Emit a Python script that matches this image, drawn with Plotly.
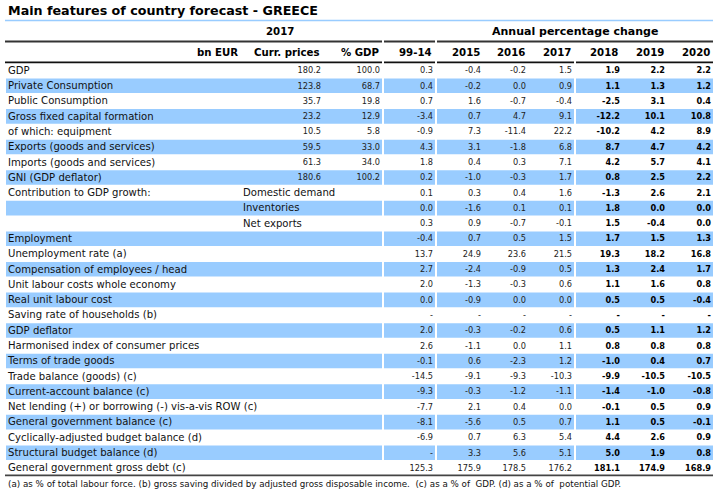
import plotly.graph_objects as go

row_labels = ["GDP", "Private Consumption", "Public Consumption", "Gross fixed capital formation",
              "of which: equipment", "Exports (goods and services)", "Imports (goods and services)",
              "GNI (GDP deflator)", "Contribution to GDP growth:", "", "", "Employment",
              "Unemployment rate (a)", "Compensation of employees / head", "Unit labour costs whole economy",
              "Real unit labour cost", "Saving rate of households (b)", "GDP deflator",
              "Harmonised index of consumer prices", "Terms of trade goods", "Trade balance (goods) (c)",
              "Current-account balance (c)", "Net lending (+) or borrowing (-) vis-a-vis ROW (c)",
              "General government balance (c)", "Cyclically-adjusted budget balance (d)",
              "Structural budget balance (d)", "General government gross debt (c)"]
sub_labels = ["", "", "", "", "", "", "", "", "Domestic demand", "Inventories", "Net exports"] + [""] * 16

curr_prices = ["180.2", "123.8", "35.7", "23.2", "10.5", "59.5", "61.3", "180.6"]
pct_gdp = ["100.0", "68.7", "19.8", "12.9", "5.8", "33.0", "34.0", "100.2"]
avg_99_14 = ["0.3", "0.4", "0.7", "-3.4", "-0.9", "4.3", "1.8", "0.2", "0.1", "0.0", "0.3", "-0.4", "13.7", "2.7",
             "2.0", "0.0", "-", "2.0", "2.6", "-0.1", "-14.5", "-9.3", "-7.7", "-8.1", "-6.9", "-", "125.3"]
y2015 = ["-0.4", "-0.2", "1.6", "0.7", "7.3", "3.1", "0.4", "-1.0", "0.3", "-1.6", "0.9", "0.7", "24.9", "-2.4",
         "-1.3", "-0.9", "-", "-0.3", "-1.1", "0.6", "-9.1", "-0.3", "2.1", "-5.6", "0.7", "3.3", "175.9"]
y2016 = ["-0.2", "0.0", "-0.7", "4.7", "-11.4", "-1.8", "0.3", "-0.3", "0.4", "0.1", "-0.7", "0.5", "23.6", "-0.9",
         "-0.3", "0.0", "-", "-0.2", "0.0", "-2.3", "-9.3", "-1.2", "0.4", "0.5", "6.3", "5.6", "178.5"]
y2017 = ["1.5", "0.9", "-0.4", "9.1", "22.2", "6.8", "7.1", "1.7", "1.6", "0.1", "-0.1", "1.5", "21.5", "0.5",
         "0.6", "0.0", "-", "0.6", "1.1", "1.2", "-10.3", "-1.1", "0.0", "0.7", "5.4", "5.1", "176.2"]
y2018 = ["1.9", "1.1", "-2.5", "-12.2", "-10.2", "8.7", "4.2", "0.8", "-1.3", "1.8", "1.5", "1.7", "19.3", "1.3",
         "1.1", "0.5", "-", "0.5", "0.8", "-1.0", "-9.9", "-1.4", "-0.1", "1.1", "4.4", "5.0", "181.1"]
y2019 = ["2.2", "1.3", "3.1", "10.1", "4.2", "4.7", "5.7", "2.5", "2.6", "0.0", "-0.4", "1.5", "18.2", "2.4",
         "1.6", "0.5", "-", "1.1", "0.8", "0.4", "-10.5", "-1.0", "0.5", "0.5", "2.6", "1.9", "174.9"]
y2020 = ["2.2", "1.2", "0.4", "10.8", "8.9", "4.2", "4.1", "2.2", "2.1", "0.0", "0.0", "1.3", "16.8", "1.7",
         "0.8", "-0.4", "-", "1.2", "0.8", "0.7", "-10.5", "-0.8", "0.9", "-0.1", "0.9", "0.8", "168.9"]

title_text = "Main features of country forecast - GREECE"
group_2017 = "2017"
group_change = "Annual percentage change"
head_labels = ["bn EUR", "Curr. prices", "% GDP", "99-14", "2015", "2016", "2017", "2018", "2019", "2020"]
footnote = ("(a) as % of total labour force. (b) gross saving divided by adjusted gross disposable income.  "
            "(c) as a % of  GDP. (d) as a % of  potential GDP.")

# ---- layout constants (pixels) ----
W, H = 719, 498
Y0, RH = 70.5, 15.29
BLUE = "#99CCFF"
DARK = "#222222"
FONT = "DejaVu Sans"
LABEL_SIZE = 10.1
NUM_SIZE = 8.2
HEAD_SIZE = 10.2
TEXT_SHIFT = 0.05
bands = [(6, 382), (384, 435), (437, 574), (576, 713)]
rows = list(range(len(row_labels)))
text_rows = [r + TEXT_SHIFT for r in rows]
shaded = [r for r in rows if r % 2 == 1]


def py(p):
    return 1 - p / H


fig = go.Figure()

for x0, x1 in bands:
    fig.add_trace(go.Bar(orientation="h", y=shaded, x=[x1 - x0] * len(shaded), base=[x0] * len(shaded),
                         width=0.955, marker=dict(color=BLUE, line_width=0), hoverinfo="skip"))

fig.add_trace(go.Scatter(x=[8] * len(rows), y=text_rows, text=row_labels, mode="text", textposition="middle right",
                         textfont=dict(family=FONT, size=LABEL_SIZE, color="#111111"), hoverinfo="skip"))
fig.add_trace(go.Scatter(x=[243] * len(rows), y=text_rows, text=sub_labels, mode="text", textposition="middle right",
                         textfont=dict(family=FONT, size=LABEL_SIZE, color="#111111"), hoverinfo="skip"))

columns = [(curr_prices, 321, False), (pct_gdp, 380, False), (avg_99_14, 433, False), (y2015, 481, False),
           (y2016, 526, False), (y2017, 572, False), (y2018, 620, True), (y2019, 665, True), (y2020, 711, True)]
for vals, right, bold in columns:
    fig.add_trace(go.Scatter(x=[right] * len(vals), y=text_rows[:len(vals)], text=vals, mode="text",
                             textposition="middle left",
                             textfont=dict(family=FONT, size=NUM_SIZE, color="#000000" if bold else DARK,
                                           weight="bold" if bold else "normal"),
                             hoverinfo="skip"))

# rules
def rule(x0, x1, y, color, width):
    fig.add_shape(type="line", xref="x", yref="paper", x0=x0, x1=x1, y0=py(y), y1=py(y),
                  line=dict(color=color, width=width))


rule(5, 713, 20.5, BLUE, 1.5)
for x0, x1 in [(5, 382), (384, 435), (437, 713)]:
    rule(x0, x1, 41.5, "#333333", 1.8)
for x0, x1 in [(5, 382), (384, 435), (437, 574), (576, 713)]:
    rule(x0, x1, 62.3, "#111111", 1.8)
rule(5, 713, 475.3, "#444444", 1.8)


def note(text, x, y, anchor, size, bold=True, color="#000000"):
    fig.add_annotation(text=text, x=x, y=py(y), xref="x", yref="paper", xanchor=anchor, yanchor="middle",
                       showarrow=False, font=dict(family=FONT, size=size, color=color,
                                                  weight="bold" if bold else "normal"))


note(title_text, 6, 10.5, "left", 12.7)
note(group_2017, 280, 31, "center", HEAD_SIZE)
note(group_change, 575, 31, "center", 11)
head_right = [240, 322, 382, 434, 482, 527, 573, 620, 666, 712]
for label, right in zip(head_labels, head_right):
    note(label, right, 52.5, "right", HEAD_SIZE)
note(footnote, 6, 484, "left", 8.72, bold=False, color="#111111")

fig.update_layout(
    width=W, height=H, margin=dict(l=0, r=0, t=0, b=0), paper_bgcolor="white", plot_bgcolor="white",
    barmode="overlay", showlegend=False,
    xaxis=dict(range=[0, W], visible=False, fixedrange=True),
    yaxis=dict(range=[(H - Y0) / RH, -Y0 / RH], visible=False, fixedrange=True),
)
fig.write_html("out.html", config={"displayModeBar": False},
               post_script="document.body.style.margin='0';")
